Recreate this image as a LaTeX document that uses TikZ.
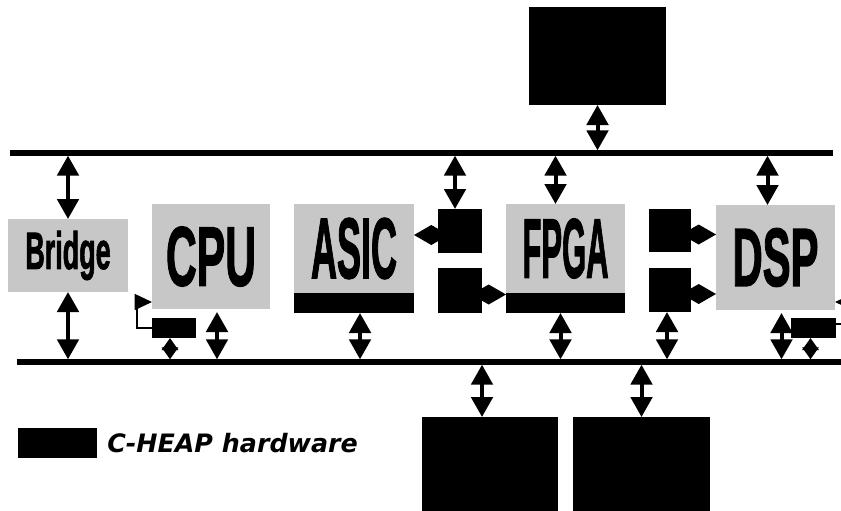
\documentclass[tikz,border=0pt]{standalone}
\usepackage{fontspec}
\usepackage{graphicx}
\usetikzlibrary{arrows.meta,fit,calc}
\newfontfamily\chipfont{Liberation Sans}[BoldFeatures={FakeBold=2}]
\newfontfamily\legendfont{DejaVu Sans}
% label squeezed into a fixed width and cap height
\newcommand{\chiplabel}[3]{\resizebox{#1}{#2}{\chipfont\bfseries #3}}

\begin{document}
\begin{tikzpicture}[
  x=0.75pt, y=-0.75pt,
  blk/.style={inner sep=0pt,outer sep=0pt},
  chip/.style={blk,fill=black!22},
  heap/.style={blk,fill=black},
  bus/.style={line width=4.5pt},
  link/.style={line width=3pt,{Triangle[length=15pt,width=16pt]}-{Triangle[length=15pt,width=16pt]}},
  shortlink/.style={line width=2.5pt,{Triangle[length=9pt,width=12pt]}-{Triangle[length=9pt,width=12pt]}},
  hook/.style={line width=2pt,-{Diamond[length=26pt,width=15pt]}},
  loopback/.style={line width=1.2pt,-{Triangle[length=13pt,width=12pt]}}
]
\useasboundingbox (0,0) rectangle (841,510);
\clip (0,0) rectangle (841,510);

% the two buses
\coordinate (tl) at (10,153);
\coordinate (tr) at (833,153);
\coordinate (bl) at (17,362);
\coordinate (br) at (845,362);
\draw[bus] (tl) -- (tr);
\draw[bus] (bl) -- (br);

% memories
\node[heap, fit={(529,7) (666,105)}] (topmem) {};
\node[heap, fit={(422,417) (558,512)}] (lowmemA) {};
\node[heap, fit={(573,417) (710,512)}] (lowmemB) {};

% processing units
\node[chip, fit={(8,219) (128,292)}, label={center:\chiplabel{64pt}{28.5pt}{Bridge}}] (bridge) {};
\node[chip, fit={(152,204) (270,309)}, label={center:\chiplabel{67.5pt}{44pt}{CPU}}] (cpu) {};
\node[chip, fit={(294,204) (414,293)}, label={center:\chiplabel{64.5pt}{45pt}{ASIC}}] (asic) {};
\node[chip, fit={(506,204) (625,293)}, label={center:\chiplabel{64.5pt}{44pt}{FPGA}}] (fpga) {};
\node[chip, fit={(716,205) (835,310)}, label={center:\chiplabel{64.5pt}{43pt}{DSP}}] (dsp) {};

% C-HEAP hardware
\node[heap, fit={(152,318) (196,338)}] (cpuheap) {};
\node[heap, fit={(294,293) (414,313)}] (asicbar) {};
\node[heap, fit={(438,209) (482,253)}] (shellA) {};
\node[heap, fit={(438,268) (482,313)}] (shellB) {};
\node[heap, fit={(506,293) (625,313)}] (fpgabar) {};
\node[heap, fit={(649,209) (691,252)}] (shellC) {};
\node[heap, fit={(649,268) (691,312)}] (shellD) {};
\node[heap, fit={(791,318) (836,338)}] (dspheap) {};

% link feet
\coordinate (shellAtop) at ($(shellA.north)+(-5,0)$);
\coordinate (fpgatop) at ($(fpga.north)+(-10,0)$);
\coordinate (dsptop) at ($(dsp.north)+(-8,0)$);
\coordinate (cpuheapbot) at ($(cpuheap.south)+(-4,0)$);
\coordinate (cpubot) at ($(cpu.south)+(6,3)$);
\coordinate (asicbot) at ($(asicbar.south)+(6,0)$);
\coordinate (fpgabot) at ($(fpgabar.south)+(-5,0)$);
\coordinate (shellDbot) at ($(shellD.south)+(-3,0)$);
\coordinate (dspbot) at ($(dsp.south)+(6,3)$);
\coordinate (dspheapbot) at ($(dspheap.south)+(-3,0)$);
\coordinate (lowmemAtop) at ($(lowmemA.north)+(-8,0)$);

% top bus links
\draw[link, shorten >=2pt] (topmem.south) -- (topmem.south |- tl);
\draw[link, shorten <=2pt] (bridge.north |- tl) -- (bridge.north);
\draw[link, shorten <=2pt] (shellAtop |- tl) -- (shellAtop);
\draw[link, shorten <=2pt] (fpgatop |- tl) -- (fpgatop);
\draw[link, shorten <=2pt] (dsptop |- tl) -- (dsptop);

% bottom bus links
\draw[link, shorten >=2pt] (bridge.south) -- (bridge.south |- bl);
\draw[shortlink, shorten >=2pt] (cpuheapbot) -- (cpuheapbot |- bl);
\draw[link, shorten >=2pt] (cpubot) -- (cpubot |- bl);
\draw[link, shorten >=2pt] (asicbot) -- (asicbot |- bl);
\draw[link, shorten >=2pt] (fpgabot) -- (fpgabot |- bl);
\draw[link, shorten >=2pt] (shellDbot) -- (shellDbot |- bl);
\draw[link, shorten >=2pt] (dspbot) -- (dspbot |- bl);
\draw[shortlink, shorten >=2pt] (dspheapbot) -- (dspheapbot |- bl);
\draw[link, shorten <=2pt] (lowmemAtop |- bl) -- (lowmemAtop);
\draw[link, shorten <=2pt] (lowmemB.north |- bl) -- (lowmemB.north);

% shells to units
\coordinate (shellAout) at ($(shellA.west)+(0,4)$);
\coordinate (shellBout) at ($(shellB.east)+(0,4)$);
\coordinate (shellCout) at ($(shellC.east)+(0,4)$);
\coordinate (shellDout) at ($(shellD.east)+(0,4)$);
\draw[hook] (shellAout) -- (shellAout -| asic.east);
\draw[hook] (shellBout) -- (shellBout -| fpgabar.west);
\draw[hook] (shellCout) -- (shellCout -| dsp.west);
\draw[hook] (shellDout) -- (shellDout -| dsp.west);

% local loops
\draw[loopback] (cpuheap.west) -- ++(-15,0) |- ($(cpu.south west)+(0,-7)$);
\draw[loopback] ($(dspheap.east)+(0,-4)$) -- ++(12,0) |- ($(dsp.south east)+(0,-8)$);

% legend
\node[heap, fit={(18,428) (97,458)}] (key) {};
\node[anchor=base west, inner sep=0pt, font=\legendfont\bfseries\itshape\fontsize{19}{22}\selectfont]
  (keytext) at ($(key.east)+(10,9)$) {C-HEAP hardware};
\end{tikzpicture}
\end{document}
